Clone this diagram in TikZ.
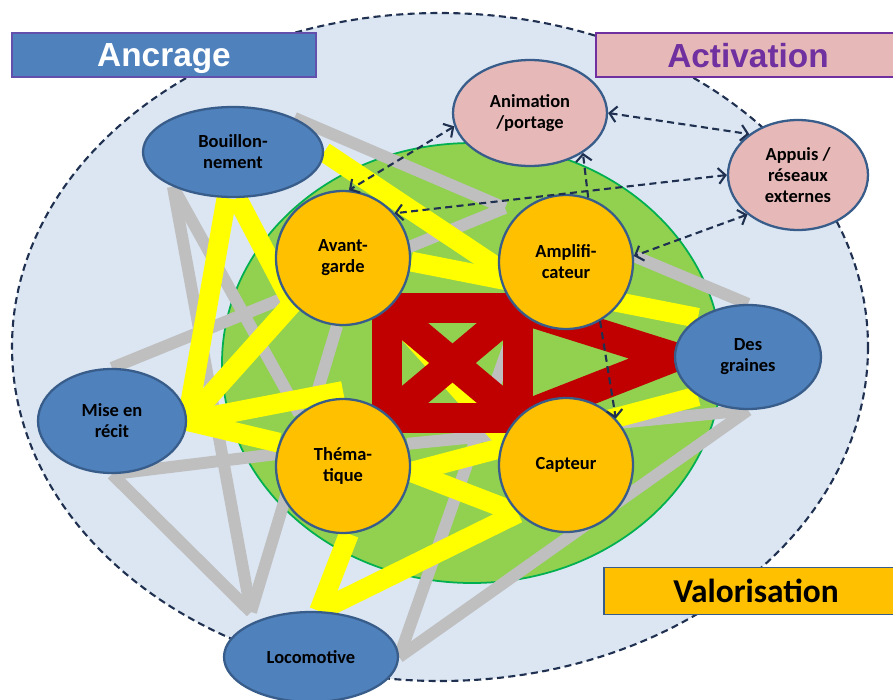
\documentclass[tikz,border=0pt]{standalone}
\usepackage{fontspec}
\setmainfont{Carlito}
\newfontfamily\arialfont{Liberation Sans}
\usetikzlibrary{shapes.geometric,arrows.meta}

\definecolor{paleblue}{HTML}{DCE6F2}
\definecolor{leafgreen}{HTML}{92D050}
\definecolor{rimgreen}{HTML}{00B050}
\definecolor{gold}{HTML}{FFC000}
\definecolor{steelblue}{HTML}{4F81BD}
\definecolor{navyrim}{HTML}{385D8A}
\definecolor{rosepink}{HTML}{E6B9B8}
\definecolor{plum}{HTML}{7030A0}
\definecolor{linkgrey}{HTML}{BFBFBF}
\definecolor{brightyellow}{HTML}{FFFF00}
\definecolor{darkred}{HTML}{C00000}
\definecolor{inkblue}{HTML}{1F3050}

\pgfdeclarelayer{back}
\pgfdeclarelayer{links}
\pgfsetlayers{back,links,main}

\begin{document}
\begin{tikzpicture}[x=0.02cm,y=-0.02cm,
    font=\bfseries\fontsize{10.5}{12}\selectfont,
    >={Straight Barb[length=4pt,width=9pt]},
    tie/.style={draw=inkblue,line width=1.2pt,dash pattern=on 4pt off 2.5pt},
    titlebox/.style={draw,line width=0.7pt,minimum width=6.08cm,minimum height=0.88cm,
      inner sep=0pt,text depth=0pt}]

  \useasboundingbox (0,0) rectangle (893,700);
  \clip (0,0) rectangle (893,700);

  % fond
  \begin{pgfonlayer}{back}
    \draw[inkblue,line width=1.2pt,dash pattern=on 4pt off 2.5pt,fill=paleblue]
      (440,347) ellipse [x radius=428,y radius=334];
    \draw[rimgreen,line width=1pt,fill=leafgreen]
      (472,363) ellipse [x radius=250,y radius=220];
  \end{pgfonlayer}

  % coeur
  \begin{scope}[every node/.style={circle,draw=navyrim,line width=1.3pt,fill=gold,
      minimum size=2.68cm,inner sep=0pt,align=center}]
    \node (avant) at (343,258) {Avant-\\garde};
    \node (ampli) at (566,262) {Amplifi-\\cateur};
    \node (thema) at (343,466) {Théma-\\tique};
    \node (capt)  at (566,465) {Capteur};
  \end{scope}

  % ancrage
  \begin{scope}[every node/.style={ellipse,draw=navyrim,line width=1.3pt,fill=steelblue,
      inner sep=0pt,align=center}]
    \node[minimum width=3.6cm,minimum height=1.8cm]   (bouil)   at (233,152) {Bouillon-\\nement};
    \node[minimum width=2.96cm,minimum height=2.08cm] (recit)   at (112,421) {Mise en\\récit};
    \node[minimum width=3.48cm,minimum height=1.8cm]  (loco)    at (311,657) {Locomotive};
    \node[minimum width=2.92cm,minimum height=2.08cm] (graines) at (748,357) {Des\\graines};
  \end{scope}

  % activation
  \begin{scope}[every node/.style={ellipse,draw=navyrim,line width=1.3pt,fill=rosepink,
      inner sep=0pt,align=center}]
    \node[minimum width=3.08cm,minimum height=2.12cm] (anim)   at (530,113) {Animation\\/portage};
    \node[minimum width=2.8cm,minimum height=2.2cm]   (appuis) at (798,175) {Appuis /\\réseaux\\externes};
  \end{scope}

  \coordinate (notch) at (505,208);
  \coordinate (knee)  at (251,612);
  \coordinate (stub)  at (343,391);

  \begin{pgfonlayer}{links}
    % gris
    \begin{scope}[every edge/.style={draw=linkgrey,line width=6.8pt}]
      \path (bouil.29)      edge (notch);
      \path (recit.north)   edge (notch);
      \path (ampli.5)       edge (graines.north);
      \path (bouil.210)     edge (knee);
      \path (recit.south)   edge (knee);
      \path (avant.265)     edge (knee);
      \path (recit.south)   edge (thema.170);
      \path (bouil.210)     edge (thema.130);
      \path (ampli.228)     edge (loco.east);
      \path (graines.south) edge (loco.east);
      \path (graines.south) edge (thema.19);
    \end{scope}
    % jaune
    \begin{scope}[every edge/.style={draw=brightyellow,line width=11.3pt}]
      \path (bouil.east)  edge (ampli.185);
      \path (bouil.262)   edge (recit.east);
      \path (bouil.275)   edge (avant.222);
      \path (avant.222)   edge (recit.east);
      \path (recit.east)  edge (stub);
      \path (recit.east)  edge (thema.160);
      \path (thema.355)   edge (graines.218);
      \path (thema.355)   edge (capt.225);
      \path (capt.225)    edge (loco.80);
      \path (thema.275)   edge (loco.80);
      \path (avant.357)   edge (graines.142);
      \path (avant.311)   edge (capt.157);
    \end{scope}
    % rouge
    \draw[darkred,line width=17pt] (387,308) rectangle (518,418)
      (387,308) -- (518,418) (387,418) -- (518,308)
      (518,308) -- (graines.west) -- (518,418);
  \end{pgfonlayer}

  % liens
  \begin{scope}[every edge/.style={tie}]
    \path (anim.190)    edge[<->] (avant.85);
    \path (appuis.west) edge[<->] (avant.41);
    \path (anim.east)   edge[<->] (appuis.140);
    \path (ampli.71)    edge[->]  (anim.323);
    \path (appuis.218)  edge[<->] (ampli.5);
    \path (ampli.300)   edge[->]  (capt.43);
  \end{scope}

  \node[titlebox,fill=steelblue,draw=plum!60!steelblue,text=white,
    font=\arialfont\bfseries\fontsize{19}{22}\selectfont] (ancrage) at (164,55) {Ancrage};
  \node[titlebox,fill=rosepink,draw=plum,text=plum,
    font=\arialfont\bfseries\fontsize{19}{22}\selectfont] (activation) at (748,55) {Activation};
  \node[titlebox,fill=gold,draw=navyrim,minimum height=0.94cm,
    font=\bfseries\fontsize{19}{22}\selectfont] (valor) at (756,591) {Valorisation};

\end{tikzpicture}
\end{document}
